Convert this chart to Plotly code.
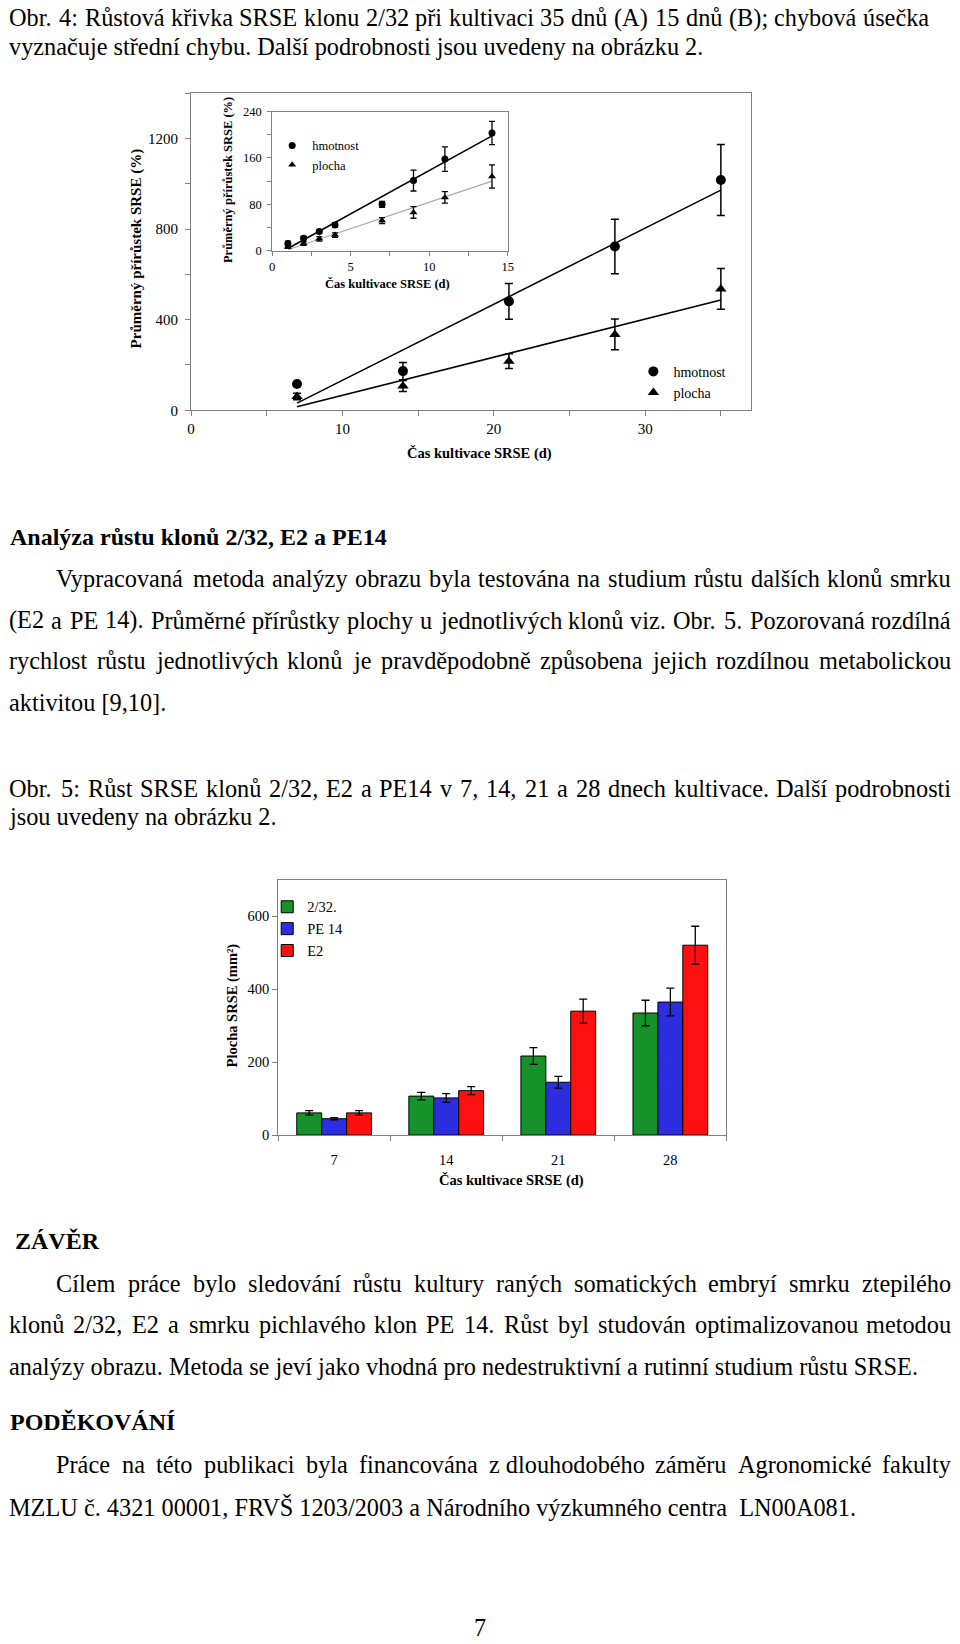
import unicodedata
import numpy as np
import plotly.graph_objects as go

W, H = 960, 1644
SERIF = "Liberation Serif"

# ---------------- Obr. 4 : main chart (35 days) ----------------
main_days = [7, 14, 21, 28, 35]
main_hmotnost = [116, 173, 481, 723, 1017]
main_hmotnost_err = [9, 38, 79, 120, 157]
main_plocha = [61, 107, 217, 335, 536]
main_plocha_err = [14, 24, 33, 68, 90]
main_yticks = [0, 400, 800, 1200]
main_xticks = [0, 10, 20, 30]

# ---------------- Obr. 4 : inset (15 days) ----------------
inset_days = [1, 2, 3, 4, 7, 9, 11, 14]
inset_hmotnost = [12.5, 21.7, 33, 44.5, 80, 121, 158, 203]
inset_hmotnost_err = [4, 3, 3, 4, 5, 18, 21, 20]
inset_plocha = [7, 12.5, 20.5, 27, 52, 66, 92, 128]
inset_plocha_err = [3, 3, 4, 4, 5, 10, 10, 20]
inset_yticks = [0, 80, 160, 240]
inset_xticks = [0, 5, 10, 15]

# ---------------- Obr. 5 : bar chart ----------------
bar_days = ["7", "14", "21", "28"]
clone_names = ["2/32.", "PE 14", "E2"]
area_232 = [61, 107, 217, 335]
area_232_err = [6, 10, 23, 35]
area_pe14 = [45, 102, 145, 365]
area_pe14_err = [3, 12, 16, 38]
area_e2 = [61, 122, 340, 521]
area_e2_err = [6, 11, 33, 52]
bar_yticks = [0, 200, 400, 600]

# ---------------- page text ----------------
cap4 = ["Obr. 4: Růstová křivka SRSE klonu 2/32 při kultivaci 35 dnů (A) 15 dnů (B); chybová úsečka",
        "vyznačuje střední chybu. Další podrobnosti jsou uvedeny na obrázku 2."]
heading1 = "Analýza růstu klonů 2/32, E2 a PE14"
para1 = ["Vypracovaná metoda analýzy obrazu byla testována na studium růstu dalších klonů smrku",
         "(E2 a PE 14). Průměrné přírůstky plochy u jednotlivých klonů viz. Obr. 5. Pozorovaná rozdílná",
         "rychlost růstu jednotlivých klonů je pravděpodobně způsobena jejich rozdílnou metabolickou",
         "aktivitou [9,10]."]
cap5 = ["Obr.  5: Růst SRSE klonů 2/32, E2 a PE14 v 7, 14, 21 a 28 dnech kultivace. Další podrobnosti",
        "jsou uvedeny na obrázku 2."]
heading2 = "ZÁVĚR"
para2 = ["Cílem práce bylo sledování růstu kultury raných somatických embryí smrku ztepilého",
         "klonů 2/32, E2 a smrku pichlavého klon PE 14. Růst byl studován optimalizovanou metodou",
         "analýzy obrazu. Metoda se jeví jako vhodná pro nedestruktivní a rutinní studium růstu SRSE."]
heading3 = "PODĚKOVÁNÍ"
para3 = ["Práce na této publikaci byla financována z\u00a0dlouhodobého záměru Agronomické fakulty",
         "MZLU č. 4321 00001, FRVŠ 1203/2003 a Národního výzkumného centra\u00a0\u00a0LN00A081."]
page_number = "7"


def px(x):
    return x / W


def py(y):
    return 1 - y / H


TIMES = {' ': 250, '\u00a0': 250, '!': 333, '(': 333, ')': 333, ',': 250, '-': 333, '.': 250,
         '/': 278, ':': 278, ';': 278, '[': 333, ']': 333, '%': 833,
         'A': 722, 'B': 667, 'C': 667, 'D': 722, 'E': 611, 'F': 556, 'G': 722, 'H': 722,
         'I': 333, 'J': 389, 'K': 722, 'L': 611, 'M': 889, 'N': 722, 'O': 722, 'P': 556,
         'Q': 722, 'R': 667, 'S': 556, 'T': 611, 'U': 722, 'V': 722, 'W': 944, 'X': 722,
         'Y': 722, 'Z': 611,
         'a': 444, 'b': 500, 'c': 444, 'd': 500, 'e': 444, 'f': 333, 'g': 500, 'h': 500,
         'i': 278, 'j': 278, 'k': 500, 'l': 278, 'm': 778, 'n': 500, 'o': 500, 'p': 500,
         'q': 500, 'r': 333, 's': 389, 't': 278, 'u': 500, 'v': 500, 'w': 722, 'x': 500,
         'y': 500, 'z': 444}
for d in "0123456789":
    TIMES[d] = 500


def text_width(s, size):
    tot = 0
    for ch in s:
        base = unicodedata.normalize('NFD', ch)[0]
        tot += TIMES.get(base, 500)
    return tot * size / 1000.0


annotations = []
FS = 24.3


def add_text(s, x0, yc, size=FS, bold=False, justify_to=None):
    if justify_to is None:
        annotations.append(dict(text=("<b>%s</b>" % s) if bold else s, x=px(x0), y=py(yc),
                                xref='paper', yref='paper', xanchor='left', yanchor='middle',
                                showarrow=False, borderpad=0, borderwidth=0,
                                font=dict(family=SERIF, size=size, color='black')))
        return
    words = [w for w in s.split(' ') if w != '']
    widths = [text_width(w, size) for w in words]
    gap = (justify_to - x0 - sum(widths)) / (len(words) - 1)
    x = x0
    for w, wd in zip(words, widths):
        annotations.append(dict(text=w, x=px(x), y=py(yc), xref='paper', yref='paper',
                                xanchor='left', yanchor='middle', showarrow=False,
                                borderpad=0, borderwidth=0,
                                font=dict(family=SERIF, size=size, color='black')))
        x += wd + gap


RIGHT = 956
add_text(cap4[0], 5, 11, justify_to=934)
add_text(cap4[1], 5, 40)
add_text(heading1, 6, 535, size=24, bold=True)
add_text(para1[0], 53, 577, justify_to=RIGHT)
add_text(para1[1], 5, 619, justify_to=RIGHT)
add_text(para1[2], 5, 660, justify_to=RIGHT)
add_text(para1[3], 5, 702)
add_text(cap5[0], 5, 789, justify_to=RIGHT)
add_text(cap5[1], 5, 817)
add_text(heading2, 11, 1245, size=24, bold=True)
add_text(para2[0], 53, 1288, justify_to=RIGHT)
add_text(para2[1], 5, 1330, justify_to=RIGHT)
add_text(para2[2], 5, 1372)
add_text(heading3, 6, 1428, size=24, bold=True)
add_text(para3[0], 53, 1471, justify_to=RIGHT)
add_text(para3[1], 5, 1514)
annotations.append(dict(text=page_number, x=px(481), y=py(1635), xref='paper', yref='paper',
                        xanchor='center', yanchor='middle', showarrow=False,
                        font=dict(family=SERIF, size=FS, color='black')))


def axis_title(s, x, y, size, angle=0):
    annotations.append(dict(text="<b>%s</b>" % s, x=px(x), y=py(y), xref='paper', yref='paper',
                            xanchor='center', yanchor='middle', showarrow=False, textangle=angle,
                            font=dict(family=SERIF, size=size, color='black')))


axis_title("Průměrný přírůstek SRSE (%)", 134, 244, 15, -90)
axis_title("Čas kultivace SRSE (d)", 481, 451, 14.5)
axis_title("Průměrný přírůstek SRSE (%)", 227, 175, 12.5, -90)
axis_title("Čas kultivace SRSE (d)", 388, 280, 12.5)
axis_title("Plocha SRSE (mm²)", 231, 1008, 14.5, -90)
axis_title("Čas kultivace SRSE (d)", 513, 1184, 14.5)

fig = go.Figure()

# ---- main chart traces ----
for ys in (main_hmotnost, main_plocha):
    k, q = np.polyfit(main_days, ys, 1)
    xs = [main_days[0], main_days[-1]]
    fig.add_trace(go.Scatter(x=xs, y=[k * v + q for v in xs], mode='lines',
                             line=dict(color='black', width=1.5), showlegend=False,
                             hoverinfo='skip', xaxis='x', yaxis='y'))
fig.add_trace(go.Scatter(x=main_days, y=main_hmotnost, mode='markers', name='hmotnost',
                         marker=dict(symbol='circle', size=10, color='black'),
                         error_y=dict(type='data', array=main_hmotnost_err, color='black',
                                      thickness=1.5, width=4),
                         xaxis='x', yaxis='y', legend='legend'))
fig.add_trace(go.Scatter(x=main_days, y=main_plocha, mode='markers', name='plocha',
                         marker=dict(symbol='triangle-up', size=10, color='black'),
                         error_y=dict(type='data', array=main_plocha_err, color='black',
                                      thickness=1.5, width=4),
                         xaxis='x', yaxis='y', legend='legend'))

# ---- inset traces ----
for ys, col, wd in [(inset_hmotnost, 'black', 1.6), (inset_plocha, '#a8a8a8', 1.2)]:
    k, q = np.polyfit(inset_days, ys, 1)
    xs = [inset_days[0], inset_days[-1]]
    fig.add_trace(go.Scatter(x=xs, y=[k * v + q for v in xs], mode='lines',
                             line=dict(color=col, width=wd), showlegend=False,
                             hoverinfo='skip', xaxis='x2', yaxis='y2'))
fig.add_trace(go.Scatter(x=inset_days, y=inset_hmotnost, mode='markers', name='hmotnost',
                         marker=dict(symbol='circle', size=7, color='black'),
                         error_y=dict(type='data', array=inset_hmotnost_err, color='black',
                                      thickness=1.3, width=3),
                         xaxis='x2', yaxis='y2', legend='legend2'))
fig.add_trace(go.Scatter(x=inset_days, y=inset_plocha, mode='markers', name='plocha',
                         marker=dict(symbol='triangle-up', size=7, color='black'),
                         error_y=dict(type='data', array=inset_plocha_err, color='black',
                                      thickness=1.3, width=3),
                         xaxis='x2', yaxis='y2', legend='legend2'))

# ---- bar chart traces ----
bar_series = [(area_232, area_232_err, '#16922a', None),
              (area_pe14, area_pe14_err, '#2f2fe6',
               dict(shape='x', size=3, solidity=0.25, fgcolor='#1a1aa8')),
              (area_e2, area_e2_err, '#ff1010', None)]
for name, (vals, errs, col, pat) in zip(clone_names, bar_series):
    mk = dict(color=col, line=dict(color='black', width=1))
    if pat:
        mk['pattern'] = pat
    fig.add_trace(go.Bar(x=bar_days, y=vals, name=name, marker=mk,
                         error_y=dict(type='data', array=errs, color='black',
                                      thickness=1.3, width=4),
                         xaxis='x3', yaxis='y3', legend='legend3'))

GRAY = '#808080'
tickfont = dict(family=SERIF, size=15, color='black')


def ax(**kw):
    base = dict(showline=True, linecolor=GRAY, linewidth=1, mirror=True, showgrid=False,
                zeroline=False, ticks='outside', tickcolor=GRAY, ticklen=5, tickfont=tickfont)
    base.update(kw)
    return base


fig.update_layout(
    width=W, height=H, autosize=False,
    margin=dict(l=0, r=0, t=0, b=0),
    paper_bgcolor='white', plot_bgcolor='white',
    showlegend=True,
    barmode='group', bargap=0.333, bargroupgap=0,
    xaxis=ax(domain=[px(189), px(755)], range=[0, 37], tickmode='array', tickvals=main_xticks,
             minor=dict(tickmode='linear', tick0=0, dtick=5, ticks='outside', ticklen=5, tickcolor=GRAY),
             anchor='y'),
    yaxis=ax(domain=[py(407), py(87)], range=[0, 1400], tickmode='array', tickvals=main_yticks,
             ticklabelstandoff=4,
             minor=dict(tickmode='linear', tick0=0, dtick=200, ticks='outside', ticklen=5, tickcolor=GRAY),
             anchor='x'),
    xaxis2=ax(domain=[px(271), px(509)], range=[0, 15], tickmode='array', tickvals=inset_xticks,
              tickfont=dict(family=SERIF, size=12.5, color='black'), ticklen=4,
              minor=dict(tickmode='linear', tick0=0, dtick=2.5, ticks='outside', ticklen=4, tickcolor=GRAY),
              anchor='y2'),
    yaxis2=ax(domain=[py(246), py(105.5)], range=[0, 240], tickmode='array', tickvals=inset_yticks,
              tickfont=dict(family=SERIF, size=12.5, color='black'), ticklen=4, ticklabelstandoff=3,
              minor=dict(tickmode='linear', tick0=0, dtick=40, ticks='outside', ticklen=4, tickcolor=GRAY),
              anchor='x2'),
    xaxis3=ax(domain=[px(277), px(730)], type='category', tickson='boundaries',
              tickfont=dict(family=SERIF, size=14.5, color='black'), ticklabelstandoff=11,
              anchor='y3'),
    yaxis3=ax(domain=[py(1138.5), py(881)], range=[0, 700], tickmode='array', tickvals=bar_yticks,
              tickfont=dict(family=SERIF, size=14.5, color='black'), anchor='x3'),
    legend=dict(x=px(636), y=py(352), xanchor='left', yanchor='top', bgcolor='rgba(0,0,0,0)',
                font=dict(family=SERIF, size=14, color='black'), tracegroupgap=0),
    legend2=dict(x=px(271), y=py(125), xanchor='left', yanchor='top', bgcolor='rgba(0,0,0,0)',
                 font=dict(family=SERIF, size=12.5, color='black'), tracegroupgap=0),
    legend3=dict(x=px(266), y=py(892), xanchor='left', yanchor='top', bgcolor='rgba(0,0,0,0)',
                 font=dict(family=SERIF, size=14.5, color='black'), tracegroupgap=0),
    annotations=annotations,
)

fig.write_html("out.html")
